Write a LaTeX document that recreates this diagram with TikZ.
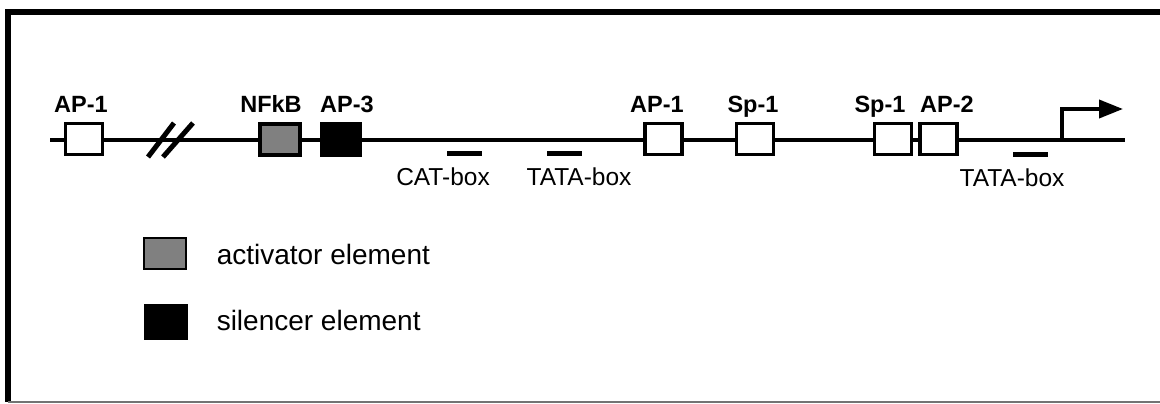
\documentclass[tikz,border=0pt]{standalone}
\usepackage{fontspec}
\setmainfont{Liberation Sans}
\usetikzlibrary{arrows.meta, positioning}
\definecolor{cshade}{gray}{0.5}
\definecolor{cframe}{gray}{0.45}
\tikzset{
  every picture/.style={x=1pt, y=-1pt, line width=3.5pt},
  site/.style={draw=black, fill=#1, line width=3.8pt, minimum width=37pt, minimum height=31pt, inner sep=0pt},
  site/.default=white,
  bar/.style={fill=black, minimum width=35pt, minimum height=5pt, inner sep=0pt},
  tf/.style={font=\fontsize{23.5}{26}\selectfont\bfseries, anchor=base, inner sep=0pt},
  motif/.style={font=\fontsize{24.5}{28}\selectfont, anchor=base, inner sep=0pt},
  legend/.style={font=\fontsize{28}{32}\selectfont, anchor=base west, inner sep=0pt},
  arrow/.style={-{Triangle[length=24pt, width=18pt]}, line width=3.8pt},
}
\begin{document}
\begin{tikzpicture}
  \useasboundingbox (0,0) rectangle (1160,404);
  % frame, open on the right
  \draw[line width=5.5pt, line join=miter] (1160,12) -- (8,12) -- (8,402);
  \draw[line width=2pt, cframe] (8,402) -- (1160,402);
  % DNA strand
  \coordinate (lstart) at (50,139.5);
  \coordinate (lend) at (1125,139.5);
  \draw[line width=4pt] (lstart) -- (lend);
  \draw[line width=5pt] (148,157) -- (174,123) (163,157) -- (193,123);
  \foreach \n/\x/\t/\lx in {apa/84/AP-1/81, apb/663.5/AP-1/657, spa/755/Sp-1/753, spb/893/Sp-1/880, apc/938.5/AP-2/947} {
    \node[site] (\n) at (\x,139) {};
    \node[tf] (\n-l) at (\lx,112) {\t};
  }
  \node[site=cshade, minimum width=40pt] (nfkb) at (280,139.5) {};
  \node[tf] (nfkb-l) at (271,112) {NFkB};
  \node[site=black, minimum width=38pt] (ap3) at (341,139.5) {};
  \node[tf] (ap3-l) at (347,112) {AP-3};
  % boxes below the strand
  \foreach \n/\x/\y/\lx in {cat/464.5/153/443, tataa/564.5/153/579, tatab/1030.5/154/1012} {
    \node[bar] (\n) at (\x,\y) {};
  }
  \node[motif] (cat-l) at (443,185) {CAT-box};
  \node[motif] (tataa-l) at (579,185) {TATA-box};
  \node[motif] (tatab-l) at (1012,186) {TATA-box};
  % start of transcription
  \coordinate (tss) at (1062,139.5);
  \coordinate (tsstip) at (1123,109);
  \draw[arrow] (tss) |- (tsstip);
  % legend
  \node[fill=cshade, draw=black, line width=2pt, minimum width=42pt, minimum height=31pt, inner sep=0pt] (act) at (165,253.5) {};
  \node[legend] (act-l) at (215,264) {activator element};
  \node[fill=black, minimum width=44pt, minimum height=36pt, inner sep=0pt] (sil) at (166,322) {};
  \node[legend] (sil-l) at (215,330) {silencer element};
\end{tikzpicture}
\end{document}
